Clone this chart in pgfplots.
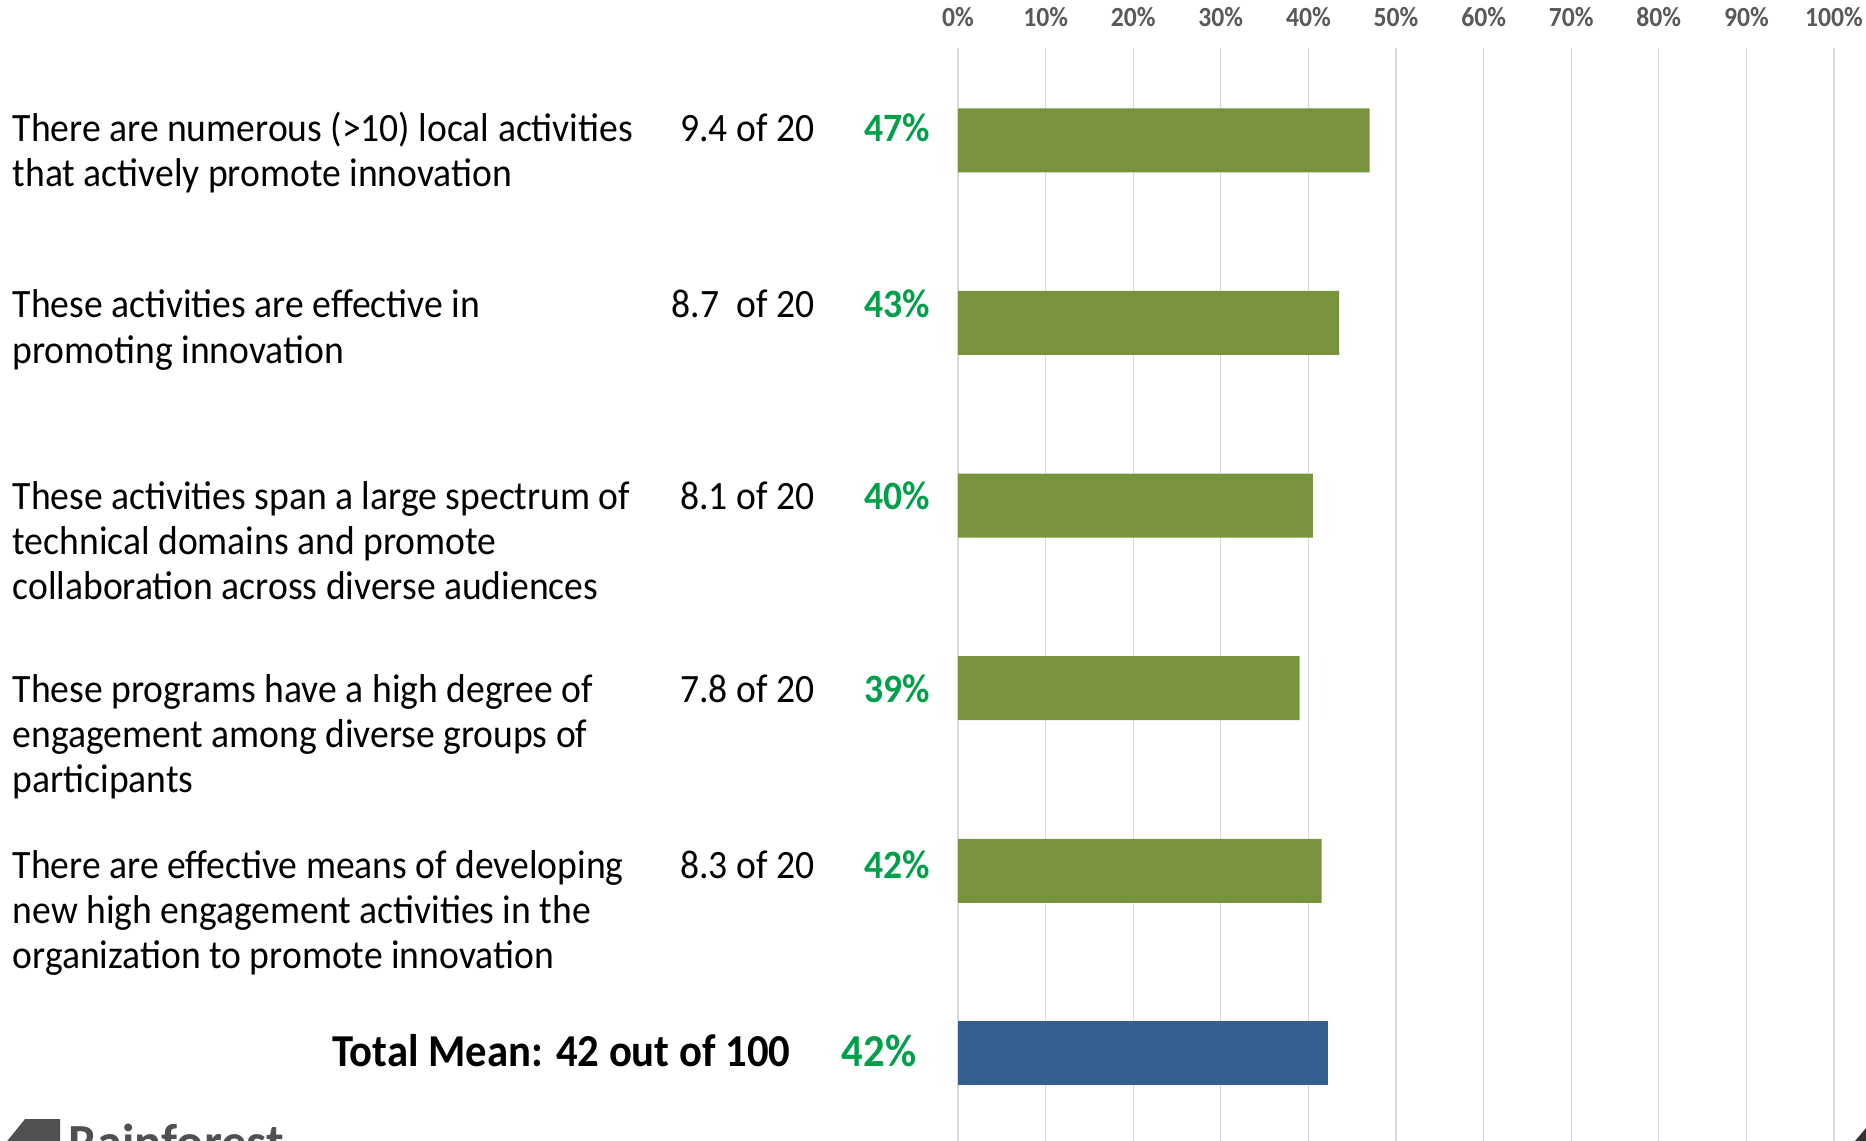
\documentclass[border=0pt]{standalone}
\usepackage{pgfplots}
\pgfplotsset{compat=1.18}
\usepackage{fontspec}
\setmainfont{Carlito}
\definecolor{barg}{RGB}{119,147,60}
\definecolor{barb}{RGB}{53,94,145}
\definecolor{pctg}{RGB}{0,160,75}
\definecolor{tickg}{RGB}{89,89,89}
\definecolor{gridc}{RGB}{217,217,217}
\definecolor{logog}{RGB}{80,80,80}
\newcommand\bodyf{\fontsize{10.7}{12.8}\selectfont}
\newcommand\totf{\fontsize{12.15}{15}\selectfont\bfseries}
\begin{document}
\begin{tikzpicture}
\useasboundingbox (0,0) rectangle (18.66cm,11.41cm);
\clip (0,0) rectangle (18.66cm,11.41cm);
\begin{axis}[
  at={(9.58cm,-0.59cm)}, anchor=south west,
  scale only axis, width=8.76cm, height=11.52cm,
  xbar, bar width=6.4mm, bar shift=0pt,
  xmin=0, xmax=100, ymin=0.494, ymax=6.803, y dir=reverse,
  axis line style={draw=none}, ytick=\empty,
  xtick={0,10,20,30,40,50,60,70,80,90,100},
  xticklabels={0\%,10\%,20\%,30\%,40\%,50\%,60\%,70\%,80\%,90\%,100\%},
  xticklabel pos=upper, major tick length=0pt,
  xmajorgrids, major grid style={gridc, line width=0.13mm},
  xticklabel style={font=\fontsize{7.3}{8}\selectfont\bfseries, text=tickg, anchor=center, yshift=3.1mm, yscale=1.08},
]
\addplot[fill=barg, draw=none] coordinates {(47,1) (43.5,2) (40.5,3) (39,4) (41.5,5)};
\addplot[fill=barb, draw=none] coordinates {(42.2,6)};
\end{axis}
\begin{scope}[x=0.1mm, y=-0.1mm, shift={(0,11.41cm)}]
\tikzset{lab/.style={anchor=base west, inner sep=0pt, font=\bodyf, yscale=1.07},
         num/.style={anchor=base east, inner sep=0pt, font=\bodyf, yscale=1.07},
         pct/.style={anchor=base west, inner sep=0pt, font=\bodyf\bfseries, text=pctg, yscale=1.07}}
% item 1
\node[lab] at (12,142) {There are numerous (>10) local activities};
\node[lab] at (12,187) {that actively promote innovation};
\node[num] at (815,142) {9.4 of 20};
\node[pct] at (864,142) {47\%};
% item 2
\node[lab] at (12,318) {These activities are effective in};
\node[lab] at (12,364) {promoting innovation};
\node[num] at (815,318) {8.7\ \ of 20};
\node[pct] at (864,318) {43\%};
% item 3
\node[lab] at (12,510) {These activities span a large spectrum of};
\node[lab] at (12,555) {technical domains and promote};
\node[lab] at (12,600) {collaboration across diverse audiences};
\node[num] at (815,510) {8.1 of 20};
\node[pct] at (864,510) {40\%};
% item 4
\node[lab] at (12,703) {These programs have a high degree of};
\node[lab] at (12,748) {engagement among diverse groups of};
\node[lab] at (12,793) {participants};
\node[num] at (815,703) {7.8 of 20};
\node[pct] at (864,703) {39\%};
% item 5
\node[lab] at (12,878) {There are effective means of developing};
\node[lab] at (12,923) {new high engagement activities in the};
\node[lab] at (12,968) {organization to promote innovation};
\node[num] at (815,878) {8.3 of 20};
\node[pct] at (864,878) {42\%};
% total
\node[anchor=base east, inner sep=0pt, font=\totf, yscale=1.07] at (791,1066) {Total Mean: 42 out of 100};
\node[anchor=base west, inner sep=0pt, font=\totf, text=pctg, yscale=1.07] at (841,1066) {42\%};
% logo fragments
\fill[logog] (25,1119) -- (60,1119) -- (60,1150) -- (0,1150) -- cycle;
\node[anchor=base west, inner sep=0pt, font=\fontsize{14.4}{16}\selectfont\bfseries, text=logog] at (68,1159) {Rainforest};
\fill[black!80] (1855,1141) -- (1866,1128) -- (1866,1141) -- cycle;
\end{scope}
\end{tikzpicture}
\end{document}
